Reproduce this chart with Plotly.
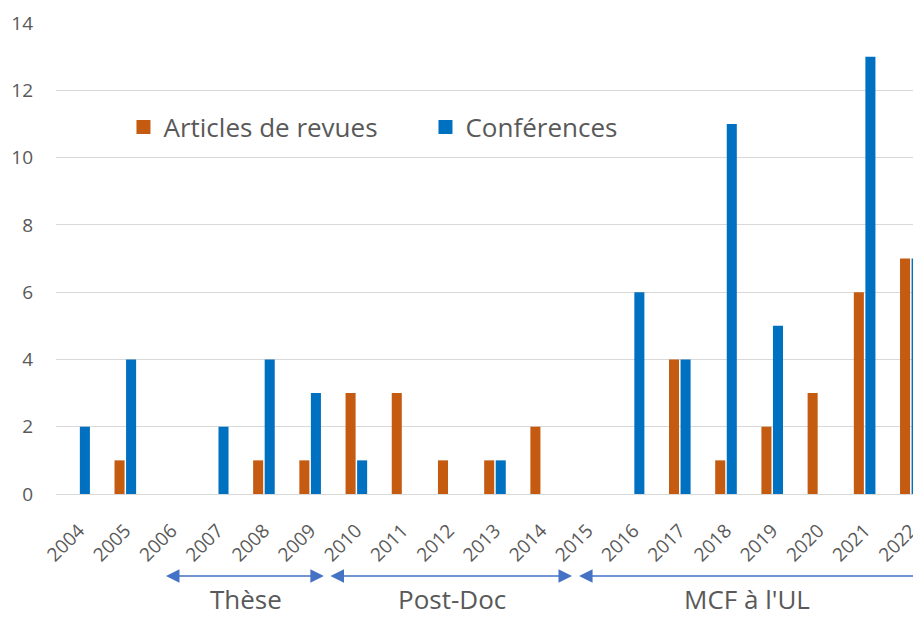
import plotly.graph_objects as go

years = list(range(2004, 2023))
articles = [0, 1, 0, 0, 1, 1, 3, 3, 1, 1, 2, 0, 0, 4, 1, 2, 3, 6, 7]
conferences = [2, 4, 0, 2, 4, 3, 1, 0, 0, 1, 0, 0, 6, 4, 11, 5, 0, 13, 7]

# career periods shown under the axis: label, start, end, arrow at right end
periods = [("Thèse", 2005.88, 2009.33, True),
           ("Post-Doc", 2009.44, 2014.7, True),
           ("MCF à l'UL", 2014.82, 2022.1, False)]

FONT = "Open Sans"
GREY = "#595959"
ARROW = "#4472C4"
ORANGE = "#C55A11"
BLUE = "#0070C0"

fig = go.Figure()
fig.add_trace(go.Bar(x=years, y=articles, name="Articles de revues", showlegend=False,
                     marker=dict(color=ORANGE, line=dict(width=0))))
fig.add_trace(go.Bar(x=years, y=conferences, name="Conférences", showlegend=False,
                     marker=dict(color=BLUE, line=dict(width=0))))
# legend entries with bigger square swatches
for name, col in [("Articles de revues", ORANGE), ("Conférences", BLUE)]:
    fig.add_trace(go.Scatter(x=[None], y=[None], mode="markers", name=name,
                             marker=dict(symbol="square", size=14, color=col)))

annotations = []
for label, start, end, both in periods:
    annotations.append(dict(x=start, y=-0.174, xref="x", yref="paper",
                            ax=end, ay=0, axref="x", ayref="pixel", text="",
                            showarrow=True, arrowhead=2, arrowsize=1.8, arrowwidth=1.5,
                            startarrowhead=2, startarrowsize=1.8,
                            arrowside="end+start" if both else "end",
                            arrowcolor=ARROW))
    annotations.append(dict(x=(start + end) / 2, y=-0.223, xref="x", yref="paper",
                            yanchor="middle", text=label, showarrow=False,
                            font=dict(family=FONT, size=26, color=GREY)))

# page body has an 8px margin, so margins are shifted to compensate
fig.update_layout(
    width=921, height=618,
    margin=dict(l=48, r=8, t=15, b=132, autoexpand=False),
    paper_bgcolor="white", plot_bgcolor="white",
    barmode="group", bargap=0.5, bargroupgap=0.13,
    font=dict(family=FONT, color=GREY),
    legend=dict(orientation="h", x=0.078, y=0.779, xanchor="left", yanchor="middle",
                font=dict(size=26, color=GREY), entrywidth=257, entrywidthmode="pixels",
                itemwidth=30, bgcolor="rgba(0,0,0,0)"),
    xaxis=dict(range=[2003.5, 2022.22], tickmode="array", tickvals=years,
               ticktext=[str(y) for y in years], tickangle=-45, automargin=False,
               tickfont=dict(size=19, color=GREY),
               ticks="outside", ticklen=17, tickcolor="rgba(0,0,0,0)",
               showgrid=False, zeroline=False, showline=False),
    yaxis=dict(range=[0, 14], dtick=2, showgrid=True, gridcolor="#D9D9D9", gridwidth=1,
               zeroline=True, zerolinecolor="#D9D9D9", zerolinewidth=1, automargin=False,
               tickfont=dict(size=19, color=GREY), ticklabelstandoff=22, showline=False),
    annotations=annotations,
)

fig.write_html("out.html")
